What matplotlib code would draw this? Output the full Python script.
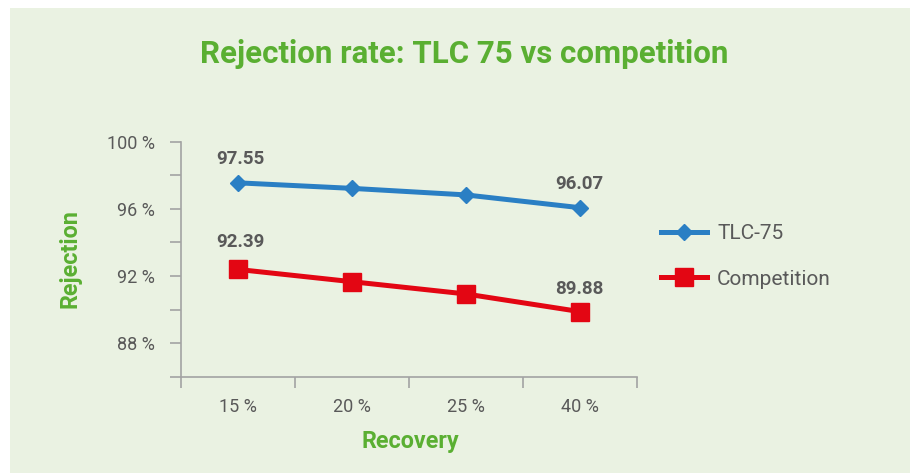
import matplotlib
matplotlib.use("Agg")
import matplotlib.pyplot as plt
from matplotlib.patches import Rectangle
from matplotlib.ticker import FixedLocator, NullFormatter, FixedFormatter

# data
recovery = ["15 %", "20 %", "25 %", "40 %"]
tlc75 = [97.55, 97.22, 96.83, 96.07]
competition = [92.39, 91.66, 90.93, 89.88]
ytick_major = [88, 92, 96, 100]
ytick_minor = [86, 90, 94, 98]

green = "#5aaf32"
grey_txt = "#595959"
spine_col = "#a3a3a3"
bg = "#eaf2e2"
font = ["Roboto", "DejaVu Sans"]


def main():
    fig = plt.figure(figsize=(9.1, 4.73), dpi=100, facecolor="white")
    fig.patches.append(Rectangle((10 / 910, 0), 1, 1 - 8 / 473, transform=fig.transFigure,
                                 facecolor=bg, edgecolor="none", zorder=-10))

    ax = fig.add_axes([181 / 910, 1 - 376.7 / 473, (636.7 - 181) / 910, (376.7 - 141.7) / 473])
    ax.set_facecolor("none")

    x = list(range(len(recovery)))
    ax.plot(x, tlc75, color="#2a7fc4", lw=3.6, marker="D", ms=8.5, label="TLC-75", zorder=3)
    ax.plot(x, competition, color="#e30613", lw=3.6, marker="s", ms=13, label="Competition", zorder=3)

    ax.set_xlim(-0.5, len(recovery) - 0.5)
    ax.set_ylim(86, 100)

    # category boundaries get the tick marks, labels sit in between
    ax.xaxis.set_major_locator(FixedLocator([i - 0.5 for i in range(len(recovery) + 1)]))
    ax.xaxis.set_major_formatter(NullFormatter())
    ax.xaxis.set_minor_locator(FixedLocator(x))
    ax.xaxis.set_minor_formatter(FixedFormatter(recovery))
    ax.tick_params(axis="x", which="major", length=8, width=1.2, color=spine_col, direction="out")
    ax.tick_params(axis="x", which="minor", length=0, pad=15, labelsize=13, labelcolor=grey_txt)

    ax.yaxis.set_major_locator(FixedLocator(ytick_major))
    ax.yaxis.set_major_formatter(FixedFormatter([f"{v} %" for v in ytick_major]))
    ax.yaxis.set_minor_locator(FixedLocator(ytick_minor))
    ax.yaxis.set_minor_formatter(NullFormatter())
    ax.tick_params(axis="y", which="both", length=8, width=1.2, color=spine_col, direction="out")
    ax.tick_params(axis="y", which="major", pad=11, labelsize=13, labelcolor=grey_txt)

    for lbl in ax.get_xticklabels(minor=True) + ax.get_yticklabels():
        lbl.set_family(font)

    for s in ["top", "right"]:
        ax.spines[s].set_visible(False)
    for s in ["left", "bottom"]:
        ax.spines[s].set_color(spine_col)
        ax.spines[s].set_linewidth(1.2)

    # value labels on first and last points
    for series, offs in [(tlc75, (17, 17)), (competition, (20, 16))]:
        for i, off in zip([0, len(series) - 1], offs):
            ax.annotate(f"{series[i]:.2f}", (x[i], series[i]), xytext=(2 if i == 0 else 0, off),
                        textcoords="offset points", ha="center", va="center",
                        fontsize=13.5, fontweight="bold", color=grey_txt, family=font)

    fig.text(464 / 910, 1 - 54 / 473, "Rejection rate: TLC 75 vs competition", ha="center", va="center",
             fontsize=22.5, fontweight="bold", color=green, family=font)
    fig.text(410 / 910, 1 - 441 / 473, "Recovery", ha="center", va="center",
             fontsize=16.8, fontweight="bold", color=green, family=font)
    fig.text(70 / 910, 1 - 259 / 473, "Rejection", ha="center", va="center", rotation=90,
             fontsize=16.8, fontweight="bold", color=green, family=font)

    leg = fig.legend(loc="center left", bbox_to_anchor=(661 / 910, 1 - 256.5 / 473), frameon=False,
                     borderpad=0, borderaxespad=0, handlelength=2.2, handletextpad=0.5,
                     labelspacing=1.25, prop={"family": font, "size": 15})
    for t in leg.get_texts():
        t.set_color(grey_txt)

    fig.savefig("out.png", dpi=100, facecolor=fig.get_facecolor())


if __name__ == "__main__":
    main()
